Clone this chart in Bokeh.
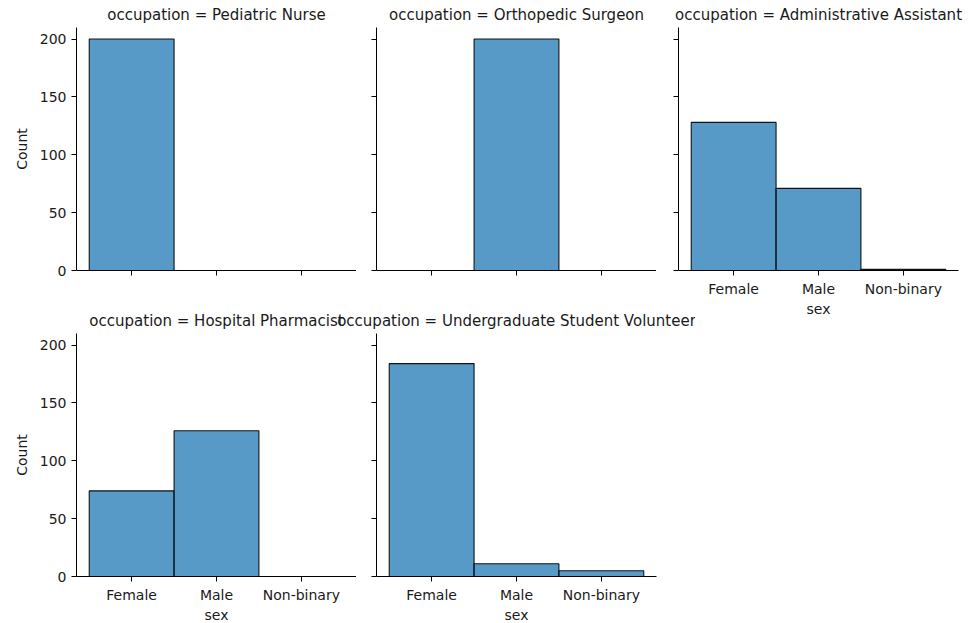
from bokeh.plotting import figure
from bokeh.models import Range1d, FixedTicker
from bokeh.layouts import column, row
from bokeh.embed import file_html
from bokeh.resources import INLINE

# ---- data ----
sex = ["Female", "Male", "Non-binary"]
occupations = ["Pediatric Nurse", "Orthopedic Surgeon", "Administrative Assistant",
               "Hospital Pharmacist", "Undergraduate Student Volunteer"]
pediatric_nurse = [200, 0, 0]
orthopedic_surgeon = [0, 200, 0]
administrative_assistant = [128, 71, 1]
hospital_pharmacist = [74, 126, 0]
undergraduate_volunteer = [184, 11, 5]
counts_by_panel = [pediatric_nurse, orthopedic_surgeon, administrative_assistant,
                   hospital_pharmacist, undergraduate_volunteer]
y_ticks = [0, 50, 100, 150, 200]
y_max = 210

FONT = "DejaVu Sans"
TXT = "#1a1a1a"
x_pos = list(range(len(sex)))


def make_panel(title, counts, ylabels, xlabels, left, right, top, bottom, margin=(0, 0, 0, 0)):
    p = figure(
        x_range=Range1d(x_pos[0] - 0.65, x_pos[-1] + 0.65),
        y_range=Range1d(0, y_max),
        frame_width=280, frame_height=243,
        min_border_left=left, min_border_right=right,
        min_border_top=top, min_border_bottom=bottom,
        output_backend="svg", toolbar_location=None,
        title="occupation = " + title,
        margin=margin,
    )
    p.border_fill_color = None
    p.background_fill_color = None
    p.outline_line_color = None
    p.xgrid.grid_line_color = None
    p.ygrid.grid_line_color = None

    p.vbar(x=x_pos, top=counts, width=1.0, bottom=0,
           fill_color="#1f77b4", fill_alpha=0.75,
           line_color="black", line_alpha=0.9, line_width=1.1)

    p.title.text_font = FONT
    p.title.text_font_size = "15px"
    p.title.text_font_style = "normal"
    p.title.text_color = TXT
    p.title.align = "center"
    p.title.standoff = 7

    for ax in (p.xaxis[0], p.yaxis[0]):
        ax.axis_line_color = "black"
        ax.axis_line_width = 1
        ax.major_tick_line_color = "black"
        ax.major_tick_out = 5
        ax.major_tick_in = 0
        ax.minor_tick_line_color = None
        ax.major_label_text_font = FONT
        ax.major_label_text_font_size = "14px"
        ax.major_label_text_color = TXT
        ax.axis_label_text_font = FONT
        ax.axis_label_text_font_size = "14px"
        ax.axis_label_text_font_style = "normal"
        ax.axis_label_text_color = TXT
        ax.major_label_standoff = 5

    p.yaxis.ticker = FixedTicker(ticks=y_ticks)
    p.xaxis.ticker = FixedTicker(ticks=x_pos)
    if ylabels:
        p.yaxis.axis_label = "Count"
        p.yaxis.axis_label_standoff = 7
    else:
        p.yaxis.major_label_overrides = {t: "" for t in y_ticks}
    if xlabels:
        p.xaxis.major_label_overrides = {i: s for i, s in zip(x_pos, sex)}
        p.xaxis.axis_label = "sex"
        p.xaxis.axis_label_standoff = 1
    else:
        p.xaxis.major_label_overrides = {i: "" for i in x_pos}
    return p


f1 = make_panel(occupations[0], counts_by_panel[0], True, False, 76, 0, 27, 36)
f2 = make_panel(occupations[1], counts_by_panel[1], False, False, 20, 0, 27, 36)
f4 = make_panel(occupations[3], counts_by_panel[3], True, True, 76, 0, 27, 46)
f5 = make_panel(occupations[4], counts_by_panel[4], False, True, 40, 39, 27, 46,
                margin=(0, 0, 0, -20))
f3 = make_panel(occupations[2], counts_by_panel[2], False, True, 22, 8, 27, 50,
                margin=(0, 0, 0, -39))

left_block = column(row(f1, f2, spacing=0), row(f4, f5, spacing=0), spacing=0)
layout = row(left_block, f3, spacing=0)

open("out.html", "w").write(file_html(layout, INLINE))
